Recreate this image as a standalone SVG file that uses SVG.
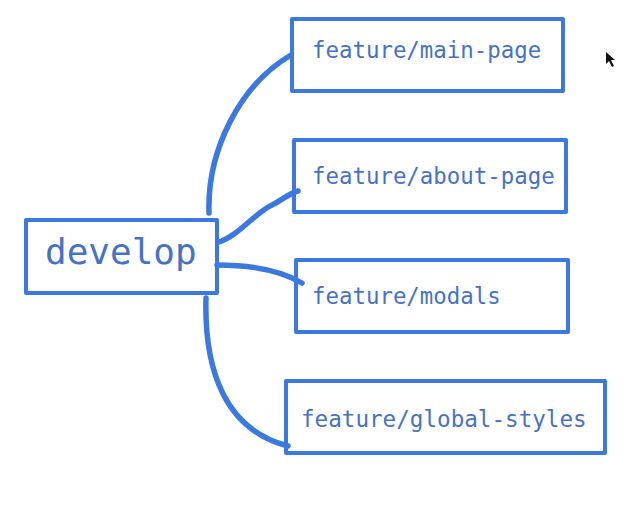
<svg xmlns="http://www.w3.org/2000/svg" width="643" height="505" viewBox="0 0 643 505">
<style>
.box{fill:#fff;stroke:#3b78df;stroke-width:4;stroke-linejoin:round}
.lbl{font-family:"DejaVu Sans Mono","Liberation Mono",monospace;fill:#4672c6}
.conn path{fill:none;stroke:#3b78df;stroke-width:5.5;stroke-linecap:round}
</style>
<rect width="643" height="505" fill="#fff"/>
<g id="develop">
<rect class="box" x="26" y="220" width="191" height="73"/>
<text class="lbl" x="45" y="264" font-size="36">develop</text>
</g>
<g id="main-page">
<rect class="box" x="292" y="19" width="271" height="72"/>
<text class="lbl" x="312" y="58" font-size="22.4">feature/main-page</text>
</g>
<g id="about-page">
<rect class="box" x="294" y="140" width="272" height="72"/>
<text class="lbl" x="312" y="184" font-size="22.4">feature/about-page</text>
</g>
<g id="modals">
<rect class="box" x="296" y="260" width="272" height="72"/>
<text class="lbl" x="312" y="304" font-size="22.4">feature/modals</text>
</g>
<g id="global-styles">
<rect class="box" x="286" y="381" width="319" height="72"/>
<text class="lbl" x="301" y="427" font-size="22.6">feature/global-styles</text>
</g>
<g class="conn" id="connectors">
<path d="M209,213 C207,150 240,85 291,55"/>
<path d="M219,242 C240,235 255,212 274,204 C285,198 290,193 298,191"/>
<path d="M217,265 C250,265 280,270 302,283"/>
<path d="M206,298 C204,370 225,430 288,446"/>
</g>
<polygon points="606,52 606,64 609,61 612,67 614,66 611,60 615,60" fill="#111"/>
</svg>
